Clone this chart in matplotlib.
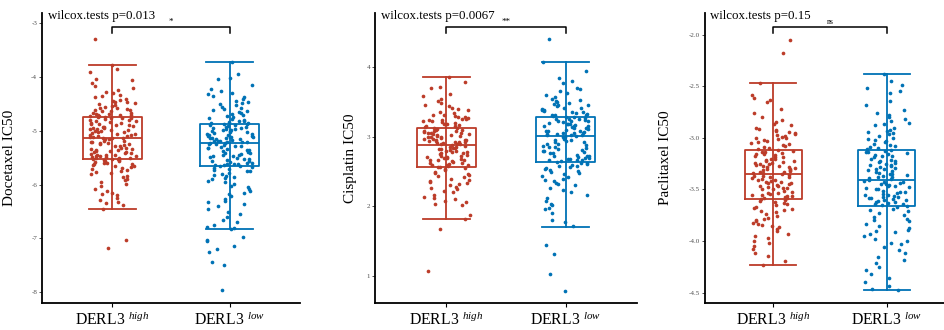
import matplotlib
matplotlib.use("Agg")
import matplotlib.pyplot as plt
import matplotlib.transforms as mtransforms
import numpy as np

plt.rcParams["font.family"] = ["Liberation Serif", "DejaVu Serif"]
plt.rcParams["mathtext.fontset"] = "custom"
plt.rcParams["mathtext.rm"] = "Liberation Serif"
plt.rcParams["mathtext.it"] = "Liberation Serif:italic"
plt.rcParams["axes.unicode_minus"] = False

RED = "#BC3C29"
BLUE = "#0072B5"

groups = ["DERL3 $^{high}$", "DERL3 $^{low}$"]
drugs = ["Docetaxel", "Cisplatin", "Paclitaxel"]
p_values = ["0.013", "0.0067", "0.15"]
signif = ["*", "**", "ns"]

# box stats: whislo, q1, med, q3, whishi
doce_high_box = [-6.45, -5.53, -5.14, -4.75, -3.77]
doce_low_box = [-6.82, -5.66, -5.22, -4.88, -3.73]
cis_high_box = [1.82, 2.57, 2.88, 3.12, 3.86]
cis_low_box = [1.71, 2.64, 3.01, 3.28, 4.08]
pac_high_box = [-4.23, -3.59, -3.35, -3.12, -2.47]
pac_low_box = [-4.47, -3.66, -3.41, -3.12, -2.38]

# IC50 points (estimated from the scatter)
doce_high = [
    -3.30,
    -3.77, -3.86, -3.91, -4.03, -4.06, -4.11, -4.17, -4.20, -4.24, -4.27, -4.29, -4.33, -4.35, -4.38,
    -4.40, -4.42, -4.44, -4.46, -4.47, -4.49, -4.51, -4.52, -4.54, -4.56, -4.57, -4.58, -4.60, -4.61,
    -4.62, -4.63, -4.64, -4.66, -4.67, -4.68, -4.69, -4.70, -4.71, -4.71, -4.72, -4.73, -4.74, -4.75,
    -4.76, -4.77, -4.77, -4.78, -4.80, -4.81, -4.82, -4.84, -4.85, -4.86, -4.88, -4.89, -4.90, -4.92,
    -4.93, -4.94, -4.96, -4.97, -4.98, -4.99, -5.01, -5.02, -5.03, -5.04, -5.06, -5.07, -5.08, -5.09,
    -5.10, -5.11, -5.12, -5.13, -5.13, -5.14, -4.79, -4.87, -4.95, -5.00, -5.05, -4.91,
    -5.15, -5.16, -5.18, -5.18, -5.20, -5.21, -5.23, -5.24, -5.25, -5.27, -5.28, -5.29, -5.31, -5.32,
    -5.33, -5.35, -5.36, -5.37, -5.38, -5.40, -5.41, -5.42, -5.43, -5.44, -5.45, -5.46, -5.47, -5.47,
    -5.48, -5.49, -5.50, -5.50, -5.51, -5.52, -5.52, -5.53, -5.22, -5.34, -5.39, -5.44,
    -5.54, -5.55, -5.56, -5.57, -5.58, -5.59, -5.60, -5.61, -5.62, -5.63, -5.65, -5.66, -5.68, -5.70,
    -5.71, -5.73, -5.75, -5.77, -5.79, -5.81, -5.84, -5.86, -5.89, -5.92, -5.95, -5.99, -6.03, -6.08,
    -6.12, -6.16, -6.18, -6.20, -6.25, -6.29, -6.32, -6.35, -6.38, -6.45,
    -7.02, -7.18,
]
doce_low = [
    -3.73, -3.94, -4.02, -4.04, -4.15, -4.22, -4.26, -4.29, -4.31, -4.35, -4.38, -4.41, -4.44, -4.46,
    -4.48, -4.50, -4.52, -4.55, -4.57, -4.59, -4.61, -4.63, -4.65, -4.67, -4.69, -4.71, -4.73, -4.74,
    -4.76, -4.78, -4.79, -4.81, -4.82, -4.84, -4.85, -4.86, -4.87, -4.88,
    -4.89, -4.90, -4.91, -4.92, -4.93, -4.95, -4.96, -4.97, -4.98, -5.00, -5.01, -5.02, -5.03, -5.04,
    -5.06, -5.07, -5.08, -5.09, -5.10, -5.11, -5.12, -5.13, -5.14, -5.15, -5.16, -5.17, -5.18, -5.19,
    -5.20, -5.21, -5.21, -5.22, -4.94, -5.05, -5.14, -5.18, -4.99, -5.11,
    -5.23, -5.24, -5.25, -5.27, -5.28, -5.29, -5.31, -5.32, -5.34, -5.35, -5.36, -5.38, -5.39, -5.41,
    -5.42, -5.43, -5.45, -5.46, -5.47, -5.49, -5.50, -5.52, -5.53, -5.55, -5.56, -5.57, -5.59, -5.60,
    -5.61, -5.62, -5.63, -5.64, -5.65, -5.66, -5.30, -5.44, -5.58, -5.62,
    -5.67, -5.69, -5.71, -5.73, -5.75, -5.78, -5.80, -5.82, -5.85, -5.88, -5.90, -5.93, -5.96, -5.99,
    -6.02, -6.05, -6.08, -6.12, -6.15, -6.18, -6.22, -6.26, -6.30, -6.33, -6.36, -6.40, -6.45, -6.50,
    -6.55, -6.60, -6.65, -6.70, -6.75, -6.78, -6.80, -6.82, -5.74, -5.84,
    -6.98, -7.02, -7.05, -7.14, -7.20, -7.25, -7.43, -7.50, -7.96,
]
cis_high = [
    3.86, 3.79, 3.72, 3.70, 3.62, 3.58, 3.55, 3.52, 3.49, 3.46, 3.44, 3.42, 3.40, 3.38, 3.36, 3.34,
    3.32, 3.31, 3.29, 3.28, 3.27, 3.26, 3.25, 3.24, 3.23, 3.22, 3.21, 3.20, 3.19, 3.18, 3.17, 3.16,
    3.15, 3.14, 3.13, 3.12, 3.30, 3.24,
    3.11, 3.10, 3.10, 3.09, 3.08, 3.07, 3.06, 3.05, 3.04, 3.04, 3.03, 3.02, 3.01, 3.00, 2.99, 2.98,
    2.97, 2.97, 2.96, 2.95, 2.94, 2.93, 2.92, 2.91, 2.90, 2.90, 2.89, 2.88, 3.05, 2.99, 2.93, 3.08,
    2.96, 3.01, 2.91, 2.94,
    2.87, 2.86, 2.85, 2.84, 2.83, 2.82, 2.81, 2.80, 2.79, 2.78, 2.77, 2.76, 2.75, 2.74, 2.73, 2.72,
    2.71, 2.70, 2.69, 2.68, 2.67, 2.66, 2.65, 2.64, 2.63, 2.62, 2.61, 2.60, 2.59, 2.58, 2.57, 2.84,
    2.78, 2.71, 2.66, 2.60,
    2.56, 2.55, 2.53, 2.52, 2.50, 2.48, 2.46, 2.44, 2.42, 2.40, 2.38, 2.36, 2.34, 2.32, 2.30, 2.28,
    2.25, 2.22, 2.20, 2.17, 2.14, 2.10, 2.08, 2.06, 2.04, 2.02, 1.88, 1.82, 2.45, 2.35, 2.26, 2.12,
    1.68, 1.07,
]
cis_low = [
    4.40,
    4.08, 3.94, 3.84, 3.80, 3.78, 3.70, 3.68, 3.66, 3.63, 3.60, 3.57, 3.55, 3.52, 3.50, 3.48, 3.46,
    3.44, 3.42, 3.40, 3.39, 3.38, 3.36, 3.35, 3.34, 3.33, 3.32, 3.31, 3.30, 3.29, 3.28, 3.53, 3.47,
    3.41, 3.37, 3.31, 3.45,
    3.27, 3.26, 3.25, 3.24, 3.23, 3.22, 3.21, 3.20, 3.19, 3.18, 3.17, 3.16, 3.15, 3.14, 3.13, 3.12,
    3.11, 3.10, 3.09, 3.08, 3.07, 3.06, 3.05, 3.04, 3.03, 3.02, 3.01, 3.22, 3.15, 3.09, 3.04, 3.18,
    3.12, 3.06, 3.25, 3.02,
    3.00, 2.99, 2.97, 2.96, 2.95, 2.93, 2.92, 2.90, 2.89, 2.88, 2.86, 2.85, 2.84, 2.82, 2.81, 2.80,
    2.78, 2.77, 2.76, 2.74, 2.73, 2.72, 2.71, 2.70, 2.69, 2.68, 2.67, 2.66, 2.65, 2.64, 2.94, 2.87,
    2.79, 2.72, 2.68, 2.66,
    2.63, 2.62, 2.61, 2.60, 2.58, 2.56, 2.55, 2.53, 2.51, 2.50, 2.48, 2.46, 2.44, 2.42, 2.40, 2.38,
    2.36, 2.34, 2.32, 2.30, 2.26, 2.23, 2.20, 2.16, 2.12, 2.07, 2.04, 2.02, 1.98, 1.96, 1.90, 1.80,
    1.78, 1.72, 2.58, 2.52,
    1.45, 1.32, 1.02, 0.78,
]
pac_high = [
    -2.05, -2.18,
    -2.47, -2.58, -2.61, -2.63, -2.65, -2.72, -2.76, -2.80, -2.83, -2.85, -2.87, -2.88, -2.90, -2.91,
    -2.92, -2.93, -2.95, -2.96, -2.97, -2.98, -2.99, -3.00, -3.01, -3.02, -3.03, -3.04, -3.05, -3.06,
    -3.07, -3.08, -3.09, -3.10, -3.11, -3.12, -2.94, -3.00,
    -3.13, -3.14, -3.15, -3.16, -3.17, -3.18, -3.19, -3.20, -3.21, -3.22, -3.23, -3.24, -3.25, -3.26,
    -3.27, -3.28, -3.29, -3.30, -3.31, -3.32, -3.33, -3.34, -3.35, -3.16, -3.22, -3.28, -3.33, -3.19,
    -3.25, -3.30, -3.14, -3.24, -3.34, -3.20, -3.27, -3.31,
    -3.36, -3.37, -3.38, -3.39, -3.40, -3.41, -3.42, -3.43, -3.44, -3.45, -3.46, -3.47, -3.48, -3.49,
    -3.50, -3.51, -3.52, -3.53, -3.54, -3.55, -3.56, -3.57, -3.58, -3.59, -3.38, -3.44, -3.50, -3.56,
    -3.41, -3.47, -3.53, -3.37, -3.43, -3.49, -3.55, -3.58,
    -3.60, -3.61, -3.62, -3.64, -3.65, -3.67, -3.69, -3.70, -3.72, -3.74, -3.76, -3.78, -3.80, -3.81,
    -3.82, -3.83, -3.84, -3.86, -3.88, -3.90, -3.93, -3.95, -3.97, -4.00, -4.02, -4.05, -4.08, -4.12,
    -4.14, -4.19, -4.23, -3.63, -3.71, -3.79, -3.85, -3.68,
]
pac_low = [
    -2.38, -2.45, -2.49, -2.52, -2.55, -2.57, -2.64, -2.68, -2.73, -2.76, -2.78, -2.80, -2.82, -2.84,
    -2.86, -2.88, -2.90, -2.92, -2.93, -2.95, -2.96, -2.98, -3.00, -3.01, -3.03, -3.04, -3.06, -3.07,
    -3.08, -3.09, -3.10, -3.11, -3.12, -2.94, -3.02, -2.87,
    -3.13, -3.14, -3.15, -3.17, -3.18, -3.19, -3.21, -3.22, -3.23, -3.25, -3.26, -3.27, -3.29, -3.30,
    -3.31, -3.33, -3.34, -3.35, -3.37, -3.38, -3.39, -3.40, -3.41, -3.16, -3.24, -3.32, -3.20, -3.28,
    -3.36, -3.14, -3.22, -3.30, -3.38, -3.18, -3.26, -3.35,
    -3.42, -3.43, -3.44, -3.45, -3.46, -3.47, -3.48, -3.49, -3.50, -3.51, -3.52, -3.53, -3.54, -3.55,
    -3.56, -3.57, -3.58, -3.59, -3.60, -3.61, -3.62, -3.63, -3.64, -3.65, -3.66, -3.45, -3.50, -3.55,
    -3.60, -3.64, -3.47, -3.52, -3.57, -3.62, -3.43, -3.58,
    -3.67, -3.69, -3.71, -3.73, -3.75, -3.77, -3.79, -3.81, -3.83, -3.85, -3.87, -3.89, -3.91, -3.93,
    -3.95, -3.98, -4.00, -4.03, -4.06, -4.09, -4.12, -4.15, -4.18, -4.21, -4.25, -4.28, -4.32, -4.36,
    -4.40, -4.44, -4.46, -4.47, -3.70, -3.80, -3.90, -4.02,
]

panels = [
    (doce_high, doce_low, doce_high_box, doce_low_box),
    (cis_high, cis_low, cis_high_box, cis_low_box),
    (pac_high, pac_low, pac_high_box, pac_low_box),
]
ylims = [(-8.2, -2.81), (0.61, 4.78), (-4.6, -1.79)]
yticks = [[-8, -7, -6, -5, -4, -3], [1, 2, 3, 4], [-4.5, -4.0, -3.5, -3.0, -2.5, -2.0]]
yfmt = ["%d", "%d", "%.1f"]
# axes rectangles in figure pixels: left, width
ax_left = [42, 375, 705]
ax_width = [258, 262, 250]
ylab_x = [-0.10, -0.069, -0.132]

W, H = 944, 330
fig = plt.figure(figsize=(W / 100, H / 100), dpi=100)

# horizontal jitter only (like geom_jitter), values untouched
rng = np.random.default_rng(11)

for i, (hi, lo, hi_box, lo_box) in enumerate(panels):
    ax = fig.add_axes([ax_left[i] / W, 27 / H, ax_width[i] / W, 290 / H])
    for pos, vals, box, col in [(1, hi, hi_box, RED), (2, lo, lo_box, BLUE)]:
        stats = dict(whislo=box[0], q1=box[1], med=box[2], q3=box[3], whishi=box[4], fliers=[])
        props = dict(color=col, linewidth=1.3)
        ax.bxp([stats], positions=[pos], widths=0.5, capwidths=[0.4],
               boxprops=props, whiskerprops=props, capprops=props,
               medianprops=props, showfliers=False, manage_ticks=False)
        ax.vlines(pos, box[1], box[3], color=col, linewidth=1.3)
        xj = pos + rng.uniform(-0.2, 0.2, len(vals))
        ax.scatter(xj, vals, s=7, color=col, linewidths=0, zorder=3)

    ax.set_xlim(0.4, 2.6)
    ax.set_ylim(*ylims[i])
    ax.set_xticks([1, 2])
    ax.set_xticklabels(groups, fontsize=11.3)
    ax.set_yticks(yticks[i])
    ax.set_yticklabels([yfmt[i] % v for v in yticks[i]])
    ax.tick_params(axis="x", length=3, width=0.8, color="black", pad=3)
    ax.tick_params(axis="y", length=2, width=0.6, color="#333333", labelsize=5,
                   labelcolor="#4D4D4D", pad=1.5)
    for s in ["top", "right"]:
        ax.spines[s].set_visible(False)
    for s in ["left", "bottom"]:
        ax.spines[s].set_linewidth(1.3)
    ax.set_ylabel(drugs[i] + " IC50", fontsize=11)
    ax.yaxis.set_label_coords(ylab_x[i], 0.5)

    trans = mtransforms.blended_transform_factory(ax.transData, ax.transAxes)
    ax.plot([1, 1, 2, 2], [0.931, 0.952, 0.952, 0.931], transform=trans,
            color="black", linewidth=1.1, clip_on=False)
    ax.text(1.5, 0.956, signif[i], transform=trans, ha="center", va="bottom",
            fontsize=5.5 if signif[i] == "ns" else 6.5)
    ax.text(0.022, 0.99, "wilcox.tests p=" + p_values[i], transform=ax.transAxes,
            ha="left", va="center", fontsize=9.3)

fig.savefig("out.png", dpi=100)
